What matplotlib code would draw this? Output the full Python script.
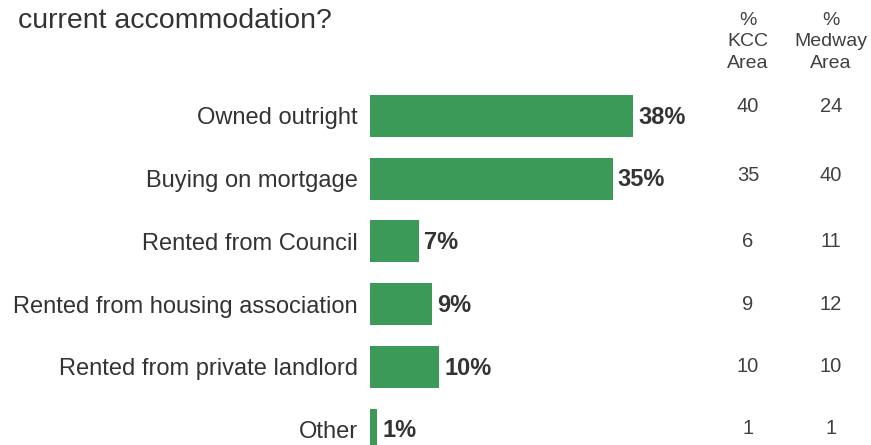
import matplotlib
matplotlib.use("Agg")
import matplotlib.pyplot as plt

plt.rcParams['font.family'] = ['Liberation Sans', 'DejaVu Sans']

categories = ["Owned outright", "Buying on mortgage", "Rented from Council",
              "Rented from housing association", "Rented from private landlord", "Other"]
values = [38, 35, 7, 9, 10, 1]
kcc_area = [40, 35, 6, 9, 10, 1]
medway_area = [24, 40, 11, 12, 10, 1]

W, H = 871, 445
fig = plt.figure(figsize=(W / 100, H / 100), dpi=100)
# axes from the bar baseline to the right edge, full height
ax = fig.add_axes([370 / W, 0, 1 - 370 / W, 1])

px_per_pct = 6.93
ax.set_xlim(0, (W - 370) / px_per_pct)
ax.set_ylim(5.247, -1.85)

ypos = list(range(len(categories)))
ax.barh(ypos, values, height=0.67, color="#3b9a57")

for y, v in zip(ypos, values):
    ax.text(v + 0.75, y + 0.02, f"{v}%", ha="left", va="center",
            fontsize=17, fontweight="bold", color="#333333")

ax.set_yticks(ypos)
ax.set_yticklabels(categories, fontsize=17, color="#333333")
ax.tick_params(axis="y", length=0, pad=9)
ax.set_xticks([])
for s in ax.spines.values():
    s.set_visible(False)

# side table rows (pixel rows from the top)
row_px = [107, 175, 242, 305, 366, 428]
kcc_x = 748 / W
med_x = 831 / W
for r, k, m in zip(row_px, kcc_area, medway_area):
    fig.text(kcc_x, 1 - r / H, str(k), ha="center", va="center", fontsize=14.5, color="#404040")
    fig.text(med_x, 1 - r / H, str(m), ha="center", va="center", fontsize=14.5, color="#404040")

fig.text(kcc_x, 1 - 42 / H, "%\nKCC\nArea", ha="center", va="center",
         fontsize=14, color="#404040", linespacing=1.32)
fig.text(med_x, 1 - 42 / H, "%\nMedway\nArea", ha="center", va="center",
         fontsize=14, color="#404040", linespacing=1.32)

fig.text(18 / W, 1 - 21 / H, "current accommodation?", ha="left", va="center",
         fontsize=20.5, color="#333333")

fig.savefig("out.png", dpi=100)
